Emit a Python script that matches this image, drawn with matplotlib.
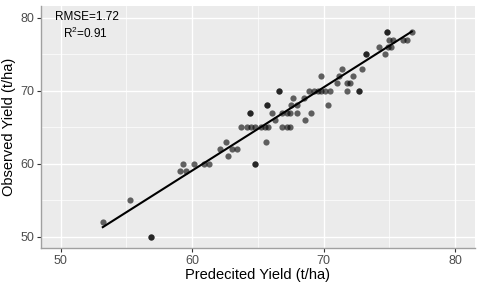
import matplotlib
matplotlib.use("Agg")
import matplotlib.pyplot as plt
from matplotlib.ticker import MultipleLocator

plt.rcParams["font.family"] = ["Liberation Sans", "DejaVu Sans"]
plt.rcParams["mathtext.fontset"] = "custom"
plt.rcParams["mathtext.rm"] = "Liberation Sans"

# Data (predicted, observed)
predicted = [53.2, 55.3, 56.9, 56.9,
             59.1, 59.5,
             59.3, 60.1, 60.9, 61.3, 64.8, 64.8,
             62.7,
             62.1, 63.0, 63.4,
             62.6, 65.6,
             63.7, 64.2, 64.5, 64.8, 65.2, 65.5, 65.8, 66.8, 67.2, 67.4,
             66.3, 68.6,
             64.4, 64.4, 66.1, 66.8, 67.2, 67.4, 68.0, 69.0,
             65.7, 65.7, 67.5, 68.0, 70.3,
             67.7, 68.5,
             66.6, 66.6, 68.9, 69.3, 69.6, 69.8, 70.1, 70.5, 71.8, 72.7, 72.7,
             71.0, 71.8, 72.0,
             69.8, 71.2, 72.2,
             71.4, 72.9,
             73.2, 73.2, 74.7,
             74.2, 74.9, 75.1,
             74.95, 75.3, 76.0, 76.3,
             74.8, 74.8, 76.7]
observed = [52, 55, 50, 50,
            59, 59,
            60, 60, 60, 60, 60, 60,
            61,
            62, 62, 62,
            63, 63,
            65, 65, 65, 65, 65, 65, 65, 65, 65, 65,
            66, 66,
            67, 67, 67, 67, 67, 67, 67, 67,
            68, 68, 68, 68, 68,
            69, 69,
            70, 70, 70, 70, 70, 70, 70, 70, 70, 70, 70,
            71, 71, 71,
            72, 72, 72,
            73, 73,
            75, 75, 75,
            76, 76, 76,
            77, 77, 77, 77,
            78, 78, 78]

fit_x = [53.2, 76.7]
fit_y = [51.3, 78.1]

rmse_text = "RMSE=1.72"
r2_text = "R$^2$=0.91"

fig = plt.figure(figsize=(4.8, 2.85), dpi=100)
ax = fig.add_axes([0.0854, 0.130, 0.904, 0.849])
ax.set_facecolor("#EBEBEB")

ax.set_xlim(48.5, 81.5)
ax.set_ylim(48.45, 81.6)
ax.xaxis.set_major_locator(MultipleLocator(10))
ax.yaxis.set_major_locator(MultipleLocator(10))
ax.xaxis.set_minor_locator(MultipleLocator(5))
ax.yaxis.set_minor_locator(MultipleLocator(5))
ax.grid(which="major", color="white", linewidth=1.0)
ax.grid(which="minor", color="white", linewidth=0.5)
ax.set_axisbelow(True)

for s in ["top", "right"]:
    ax.spines[s].set_visible(False)
for s in ["left", "bottom"]:
    ax.spines[s].set_color("#A0A0A0")
    ax.spines[s].set_linewidth(1.0)

ax.tick_params(which="major", length=3, color="#333333", labelsize=9,
               labelcolor="#4D4D4D", pad=2)
ax.tick_params(which="minor", length=0)

ax.scatter(predicted, observed, s=20, color="black", alpha=0.6,
           linewidths=0, zorder=3)
ax.plot(fit_x, fit_y, color="black", linewidth=1.5, zorder=4)

ax.set_xlabel("Predecited Yield (t/ha)", fontsize=10.5, labelpad=1)
ax.set_ylabel("Observed Yield (t/ha)", fontsize=10.5, labelpad=3)

ax.text(52.0, 80.1, rmse_text, ha="center", va="center", fontsize=8.5)
ax.text(51.9, 77.9, r2_text, ha="center", va="center", fontsize=8.5)

fig.savefig("out.png", dpi=100)
